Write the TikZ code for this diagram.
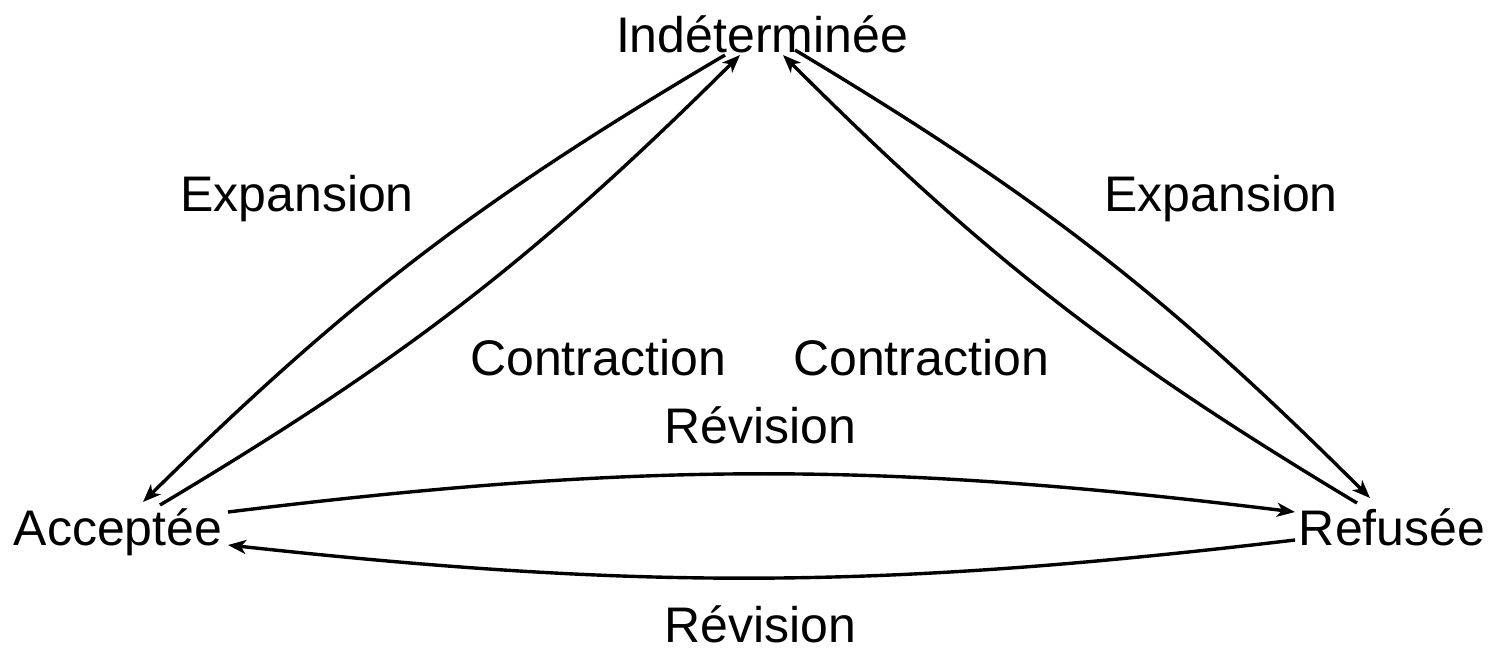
\documentclass[tikz,border=0pt]{standalone}
\usepackage{fontspec}
\setmainfont{Liberation Sans}
\usetikzlibrary{arrows.meta}
\begin{document}
\begin{tikzpicture}[x=0.5pt,y=-0.5pt,
  lbl/.style={font=\fontsize{25}{30}\selectfont, inner sep=0pt, anchor=base},
  conn/.style={line width=1.7pt, -{Stealth[length=9pt,width=7pt,inset=2.5pt]}}]
\useasboundingbox (0,0) rectangle (1493,650);
\node[lbl] (ind) at (762,52) {Indéterminée};
\node[lbl] (acc) at (118,545) {Acceptée};
\node[lbl] (ref) at (1392,545) {Refusée};
\node[lbl] (expL) at (297,211) {Expansion};
\node[lbl] (expR) at (1221,211) {Expansion};
\node[lbl] (conL) at (598,375) {Contraction};
\node[lbl] (conR) at (921,375) {Contraction};
\node[lbl] (revT) at (760,443) {Révision};
\node[lbl] (revB) at (760,642) {Révision};
% left
\draw[conn] ([shift={(-37,3)}]ind.base) to[bend right=7] ([shift={(25,-43)}]acc.base);
\draw[conn] ([shift={(42,-40)}]acc.base) to[bend right=7] ([shift={(-22,3)}]ind.base);
% right
\draw[conn] ([shift={(33,-2)}]ind.base) to[bend left=7] ([shift={(-22,-47)}]ref.base);
\draw[conn] ([shift={(-35,-42)}]ref.base) to[bend left=7] ([shift={(21,3)}]ind.base);
% bottom
\draw[conn] ([shift={(110,-33)}]acc.base) to[bend left=7] ([shift={(-97,-33)}]ref.base);
\draw[conn] ([shift={(-97,-5)}]ref.base) to[bend left=6.5] ([shift={(110,0)}]acc.base);
\end{tikzpicture}
\end{document}
